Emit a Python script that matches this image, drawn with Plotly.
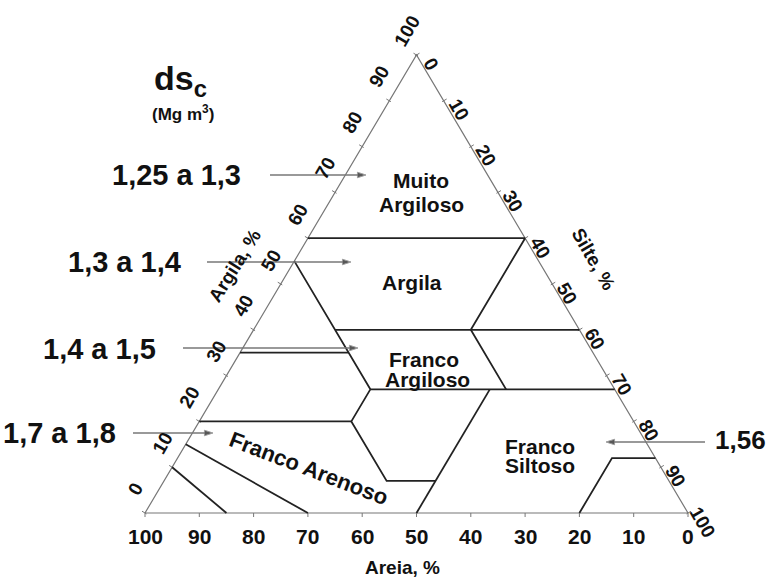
import plotly.graph_objects as go

# ---------------- data ----------------
sand_ticks = [100, 90, 80, 70, 60, 50, 40, 30, 20, 10, 0]
clay_ticks = [0, 10, 20, 30, 40, 50, 60, 70, 80, 90, 100]
silt_ticks = [0, 10, 20, 30, 40, 50, 60, 70, 80, 90, 100]

# class boundaries: vertices as sand % and clay % (silt = 100 - sand - clay)
boundary_sand = [
    [40, 0],                 # clay 60
    [45, 45, 52, 52, 43],    # sand 45 / sand 52 / clay 7
    [45, 0],                 # clay 40
    [65, 45],                # clay 35
    [45, 0],                 # clay 27
    [0, 20, 20],             # silt 40 / sand 20
    [23, 50],                # silt 50
    [80, 52],                # clay 20
    [85, 70],                # loamy sand
    [90, 85],                # sand
    [20, 8, 0],              # silt
]
boundary_clay = [
    [60, 60],
    [55, 27, 20, 7, 7],
    [40, 40],
    [35, 35],
    [27, 27],
    [60, 40, 27],
    [27, 0],
    [20, 20],
    [15, 0],
    [10, 0],
    [0, 12, 12],
]

class_lines = [["Muito", "Argiloso"], ["Argila"], ["Franco", "Argiloso"], ["Franco", "Siltoso"]]
class_sandy = "Franco Arenoso"
density_labels = ["1,25 a 1,3", "1,3 a 1,4", "1,4 a 1,5", "1,7 a 1,8", "1,56"]

# ---------------- layout geometry ----------------
W, H = 780, 582
PX0, PY0 = 145.0, 513.0   # pixel of sand-100 corner
SX, SY = 5.43, 4.58       # pixels per unit

def tx(sand, clay):
    silt = 100 - sand - clay
    return silt + clay / 2.0, clay

def shift(X, Y, dpx, dpy):
    return X + dpx / SX, Y - dpy / SY

def pix(px, py):
    return (px - PX0) / SX, (PY0 - py) / SY

FONT = "Liberation Sans, Arial, sans-serif"
fig = go.Figure()

# triangle outline
ox, oy = [], []
for s, c in [(100, 0), (0, 100), (0, 0), (100, 0)]:
    X, Y = tx(s, c)
    ox.append(X); oy.append(Y)
fig.add_trace(go.Scatter(x=ox, y=oy, mode="lines", line=dict(color="#777", width=1.2),
                         hoverinfo="skip", showlegend=False))

# tick marks
tkx, tky = [], []
for s in sand_ticks:
    X, Y = tx(s, 0)
    a = shift(X, Y, 0, 0); b = shift(X, Y, 0, 4)
    tkx += [a[0], b[0], None]; tky += [a[1], b[1], None]
for c in clay_ticks:
    X, Y = tx(100 - c, c)
    a = shift(X, Y, 1.5, 0.9); b = shift(X, Y, -3.0, -1.8)
    tkx += [a[0], b[0], None]; tky += [a[1], b[1], None]
for si in silt_ticks:
    X, Y = tx(0, 100 - si)
    a = shift(X, Y, -1.5, 0.9); b = shift(X, Y, 3.0, -1.8)
    tkx += [a[0], b[0], None]; tky += [a[1], b[1], None]
fig.add_trace(go.Scatter(x=tkx, y=tky, mode="lines", line=dict(color="#777", width=1),
                         hoverinfo="skip", showlegend=False))

# class boundaries
for ss, cc in zip(boundary_sand, boundary_clay):
    pts = [tx(s, c) for s, c in zip(ss, cc)]
    fig.add_trace(go.Scatter(x=[p[0] for p in pts], y=[p[1] for p in pts], mode="lines",
                             line=dict(color="#222", width=1.8),
                             hoverinfo="skip", showlegend=False))

annotations = []
def add_text(X, Y, text, size, angle=0, bold=True, xanchor="center"):
    annotations.append(dict(x=X, y=Y, xref="x", yref="y", text=("<b>%s</b>" % text) if bold else text,
                            showarrow=False, textangle=angle, xanchor=xanchor, yanchor="middle",
                            font=dict(family=FONT, size=size, color="#111")))

# tick labels
for s in sand_ticks:
    X, Y = tx(s, 0)
    add_text(*shift(X, Y, 0, 23), str(s), 21)
for c in clay_ticks:
    X, Y = tx(100 - c, c)
    add_text(*shift(X, Y, -10, -24), str(c), 19, angle=-60)
for si in silt_ticks:
    X, Y = tx(0, 100 - si)
    add_text(*shift(X, Y, 15, 9), str(si), 19, angle=60)

# axis titles
add_text(*pix(402, 567), "Areia, %", 19)
add_text(*pix(234, 266), "Argila, %", 19, angle=-58)
add_text(*pix(594, 259), "Silte, %", 19, angle=60)

# class labels
class_pos = [[(421, 180), (421, 204)], [(412, 282)], [(424, 359), (427, 379)], [(540, 446), (540, 465)]]
for lines, poss in zip(class_lines, class_pos):
    for t, (px, py) in zip(lines, poss):
        add_text(*pix(px, py), t, 21)
add_text(*pix(309, 468), class_sandy, 22, angle=21, bold=True)

# density arrows (tail px, head px, level py)
arrow_geo = [(270, 366, 175), (207, 351, 262), (183, 358, 348), (133, 213, 433), (705, 606, 442)]
label_pos = [(243, 175, "right"), (183, 262, "right"), (158, 349, "right"), (118, 433, "right"), (713, 440, "left")]
label_size = [29, 29, 29, 29, 26]
for lab, (t, h, py), (lx, ly, anc), fs in zip(density_labels, arrow_geo, label_pos, label_size):
    a = pix(t, py); b = pix(h, py)
    fig.add_trace(go.Scatter(x=[a[0], b[0]], y=[a[1], b[1]], mode="lines+markers",
                             line=dict(color="#777", width=1.6),
                             marker=dict(symbol=["circle", "arrow"], size=[0, 9], color="#111",
                                         angleref="previous"),
                             hoverinfo="skip", showlegend=False))
    add_text(*pix(lx, ly), lab, fs, xanchor=anc)

# quantity heading
add_text(*pix(180, 80), "ds<sub>c</sub>", 34)
add_text(*pix(183, 113), "(Mg m<sup>3</sup>)", 17)

fig.update_layout(
    width=W, height=H, autosize=False,
    margin=dict(l=0, r=0, t=0, b=0),
    paper_bgcolor="white", plot_bgcolor="white",
    xaxis=dict(range=[(0 - PX0) / SX, (W - PX0) / SX], visible=False, fixedrange=True),
    yaxis=dict(range=[(PY0 - H) / SY, PY0 / SY], visible=False, fixedrange=True),
    annotations=annotations,
    showlegend=False,
)

fig.write_html("out.html", config={"displayModeBar": False},
               post_script="document.body.style.margin='0px';document.body.style.overflow='hidden';")
